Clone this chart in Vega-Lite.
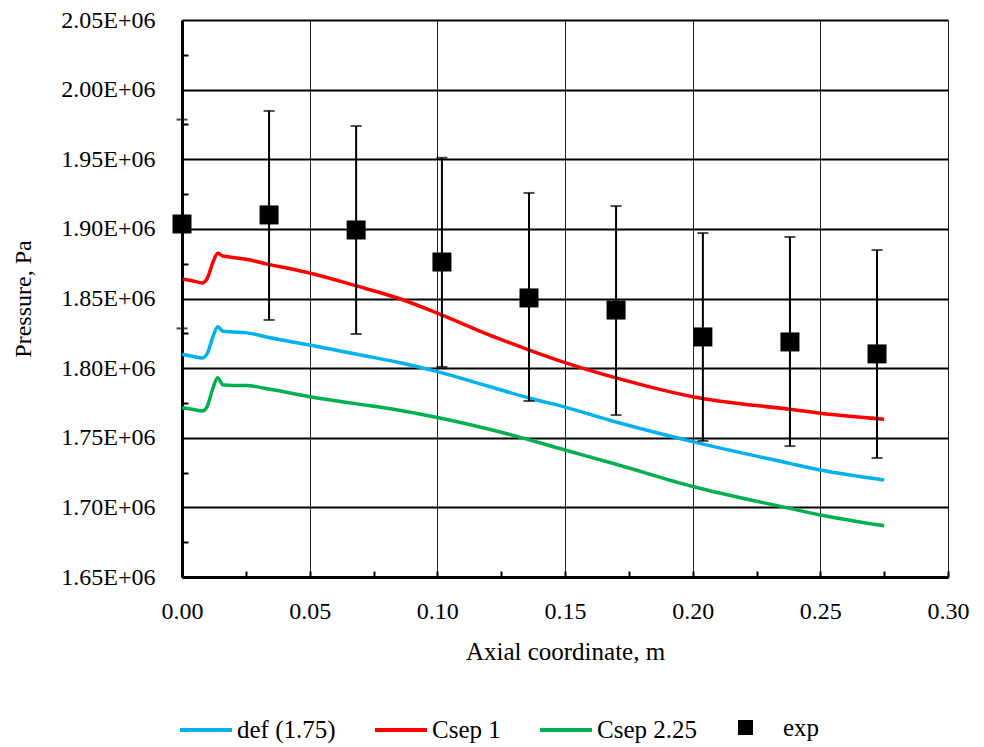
{
  "$schema": "https://vega.github.io/schema/vega-lite/v6.json",
  "width": 766,
  "height": 557,
  "autosize": "none",
  "padding": {"left": 182, "top": 20, "right": 36, "bottom": 170},
  "background": "white",
  "config": {
    "font": "Liberation Serif, Times New Roman, serif",
    "view": {"stroke": null},
    "axis": {"labelColor": "black", "titleColor": "black", "titleFontWeight": "normal", "labelFont": "Liberation Serif, Times New Roman, serif", "titleFont": "Liberation Serif, Times New Roman, serif"},
    "legend": {"labelFont": "Liberation Serif, Times New Roman, serif", "labelColor": "black", "padding": 0}
  },
  "datasets": {
    "sim": [
      {"x": 0.000, "p": 1809900, "series": "def (1.75)"},
      {"x": 0.004, "p": 1808500, "series": "def (1.75)"},
      {"x": 0.008, "p": 1807200, "series": "def (1.75)"},
      {"x": 0.010, "p": 1811000, "series": "def (1.75)"},
      {"x": 0.012, "p": 1822000, "series": "def (1.75)"},
      {"x": 0.014, "p": 1829800, "series": "def (1.75)"},
      {"x": 0.016, "p": 1826500, "series": "def (1.75)"},
      {"x": 0.020, "p": 1826000, "series": "def (1.75)"},
      {"x": 0.025, "p": 1825500, "series": "def (1.75)"},
      {"x": 0.034, "p": 1822000, "series": "def (1.75)"},
      {"x": 0.050, "p": 1816600, "series": "def (1.75)"},
      {"x": 0.068, "p": 1810100, "series": "def (1.75)"},
      {"x": 0.085, "p": 1804000, "series": "def (1.75)"},
      {"x": 0.100, "p": 1797500, "series": "def (1.75)"},
      {"x": 0.120, "p": 1787000, "series": "def (1.75)"},
      {"x": 0.136, "p": 1778500, "series": "def (1.75)"},
      {"x": 0.150, "p": 1772000, "series": "def (1.75)"},
      {"x": 0.170, "p": 1761300, "series": "def (1.75)"},
      {"x": 0.200, "p": 1747200, "series": "def (1.75)"},
      {"x": 0.238, "p": 1731600, "series": "def (1.75)"},
      {"x": 0.250, "p": 1726800, "series": "def (1.75)"},
      {"x": 0.275, "p": 1719700, "series": "def (1.75)"},
      {"x": 0.000, "p": 1864000, "series": "Csep 1"},
      {"x": 0.004, "p": 1862800, "series": "Csep 1"},
      {"x": 0.008, "p": 1861200, "series": "Csep 1"},
      {"x": 0.010, "p": 1865000, "series": "Csep 1"},
      {"x": 0.012, "p": 1875500, "series": "Csep 1"},
      {"x": 0.014, "p": 1882500, "series": "Csep 1"},
      {"x": 0.016, "p": 1880500, "series": "Csep 1"},
      {"x": 0.020, "p": 1879500, "series": "Csep 1"},
      {"x": 0.025, "p": 1878200, "series": "Csep 1"},
      {"x": 0.034, "p": 1874500, "series": "Csep 1"},
      {"x": 0.050, "p": 1868300, "series": "Csep 1"},
      {"x": 0.068, "p": 1859200, "series": "Csep 1"},
      {"x": 0.085, "p": 1850000, "series": "Csep 1"},
      {"x": 0.100, "p": 1839500, "series": "Csep 1"},
      {"x": 0.120, "p": 1824000, "series": "Csep 1"},
      {"x": 0.136, "p": 1813000, "series": "Csep 1"},
      {"x": 0.150, "p": 1804000, "series": "Csep 1"},
      {"x": 0.170, "p": 1793000, "series": "Csep 1"},
      {"x": 0.200, "p": 1779500, "series": "Csep 1"},
      {"x": 0.238, "p": 1770400, "series": "Csep 1"},
      {"x": 0.250, "p": 1767600, "series": "Csep 1"},
      {"x": 0.275, "p": 1763300, "series": "Csep 1"},
      {"x": 0.000, "p": 1771600, "series": "Csep 2.25"},
      {"x": 0.004, "p": 1770500, "series": "Csep 2.25"},
      {"x": 0.008, "p": 1769200, "series": "Csep 2.25"},
      {"x": 0.010, "p": 1773000, "series": "Csep 2.25"},
      {"x": 0.012, "p": 1785000, "series": "Csep 2.25"},
      {"x": 0.014, "p": 1793100, "series": "Csep 2.25"},
      {"x": 0.016, "p": 1788000, "series": "Csep 2.25"},
      {"x": 0.020, "p": 1787500, "series": "Csep 2.25"},
      {"x": 0.025, "p": 1787500, "series": "Csep 2.25"},
      {"x": 0.034, "p": 1785000, "series": "Csep 2.25"},
      {"x": 0.050, "p": 1779500, "series": "Csep 2.25"},
      {"x": 0.068, "p": 1774500, "series": "Csep 2.25"},
      {"x": 0.085, "p": 1769800, "series": "Csep 2.25"},
      {"x": 0.100, "p": 1764600, "series": "Csep 2.25"},
      {"x": 0.125, "p": 1754000, "series": "Csep 2.25"},
      {"x": 0.150, "p": 1741200, "series": "Csep 2.25"},
      {"x": 0.170, "p": 1731000, "series": "Csep 2.25"},
      {"x": 0.200, "p": 1715000, "series": "Csep 2.25"},
      {"x": 0.238, "p": 1699300, "series": "Csep 2.25"},
      {"x": 0.250, "p": 1694500, "series": "Csep 2.25"},
      {"x": 0.275, "p": 1686800, "series": "Csep 2.25"}
    ],
    "exp": [
      {"x": 0.0000, "p": 1903500, "lo": 1828500, "hi": 1978500, "series": "exp"},
      {"x": 0.0341, "p": 1910000, "lo": 1834600, "hi": 1984700, "series": "exp"},
      {"x": 0.0682, "p": 1899200, "lo": 1824500, "hi": 1973900, "series": "exp"},
      {"x": 0.1018, "p": 1876200, "lo": 1800800, "hi": 1951000, "series": "exp"},
      {"x": 0.1359, "p": 1850400, "lo": 1776400, "hi": 1925800, "series": "exp"},
      {"x": 0.1700, "p": 1841700, "lo": 1766300, "hi": 1916400, "series": "exp"},
      {"x": 0.2040, "p": 1822400, "lo": 1747700, "hi": 1897000, "series": "exp"},
      {"x": 0.2381, "p": 1818800, "lo": 1744000, "hi": 1894200, "series": "exp"},
      {"x": 0.2722, "p": 1810200, "lo": 1735500, "hi": 1884800, "series": "exp"}
    ]
  },
  "resolve": {"axis": {"x": "independent", "y": "independent"}},
  "layer": [
    {
      "layer": [
        {
          "data": {"name": "sim"},
          "mark": {"type": "line", "strokeWidth": 3.5, "interpolate": "monotone"},
          "encoding": {
            "x": {
              "field": "x", "type": "quantitative",
              "scale": {"domain": [0, 0.3], "nice": false, "zero": false},
              "axis": {
                "title": "Axial coordinate, m",
                "values": [0, 0.05, 0.1, 0.15, 0.2, 0.25, 0.3],
                "format": ".2f",
                "labelFontSize": 24, "titleFontSize": 25,
                "labelPadding": 22, "titlePadding": 16,
                "ticks": false,
                "domainColor": "black", "domainWidth": 3,
                "grid": true, "gridColor": "#222222", "gridWidth": 1,
                "labelFlush": false
              }
            },
            "y": {
              "field": "p", "type": "quantitative",
              "title": "Pressure, Pa",
              "scale": {"domain": [1650000, 2050000], "nice": false, "zero": false},
              "axis": {
                "values": [1650000, 1700000, 1750000, 1800000, 1850000, 1900000, 1950000, 2000000, 2050000],
                "labelExpr": "format(datum.value / 1000000, '.2f') + 'E+06'",
                "labelFontSize": 24, "titleFontSize": 24,
                "labelPadding": 27, "titlePadding": 25,
                "ticks": false,
                "domainColor": "black", "domainWidth": 3,
                "grid": true, "gridColor": "black", "gridWidth": 2
              }
            },
            "color": {
              "field": "series", "type": "nominal",
              "scale": {"domain": ["def (1.75)", "Csep 1", "Csep 2.25"], "range": ["#00B0F0", "#FF0000", "#00B050"]},
              "legend": {
                "title": null, "orient": "none", "direction": "horizontal",
                "legendX": -4, "legendY": 682,
                "symbolType": "stroke", "symbolSize": 2704, "symbolStrokeWidth": 4,
                "labelFontSize": 25, "labelOffset": 3, "columnPadding": 31
              }
            }
          }
        },
        {
          "data": {"name": "exp"},
          "mark": {"type": "errorbar", "color": "black", "thickness": 2, "size": 11, "ticks": true},
          "encoding": {
            "x": {"field": "x", "type": "quantitative"},
            "y": {"field": "lo", "type": "quantitative", "title": "Pressure, Pa"},
            "y2": {"field": "hi"}
          }
        },
        {
          "data": {"name": "exp"},
          "mark": {"type": "point", "filled": true, "color": "black", "opacity": 1, "size": 361},
          "encoding": {
            "x": {"field": "x", "type": "quantitative"},
            "y": {"field": "p", "type": "quantitative", "title": "Pressure, Pa"},
            "shape": {
              "field": "series", "type": "nominal",
              "scale": {"domain": ["exp"], "range": ["square"]},
              "legend": {
                "title": null, "orient": "none",
                "legendX": 551, "legendY": 695,
                "symbolSize": 225, "symbolFillColor": "black", "symbolStrokeColor": "black",
                "labelFontSize": 25, "labelOffset": 25
              }
            }
          }
        }
      ]
    },
    {
      "data": {"name": "exp"},
      "mark": {"type": "point", "opacity": 0},
      "encoding": {
        "x": {
          "field": "x", "type": "quantitative",
          "axis": {
            "orient": "bottom", "title": null, "labels": false, "domain": false, "grid": false,
            "values": [0, 0.025, 0.05, 0.075, 0.1, 0.125, 0.15, 0.175, 0.2, 0.225, 0.25, 0.275, 0.3],
            "tickSize": -6, "tickWidth": 2, "tickColor": "black"
          }
        },
        "y": {
          "field": "p", "type": "quantitative",
          "axis": {
            "orient": "left", "title": null, "labels": false, "domain": false, "grid": false,
            "values": [1675000, 1725000, 1775000, 1825000, 1875000, 1925000, 1975000, 2025000],
            "tickSize": -6, "tickWidth": 2, "tickColor": "black"
          }
        }
      }
    }
  ]
}
